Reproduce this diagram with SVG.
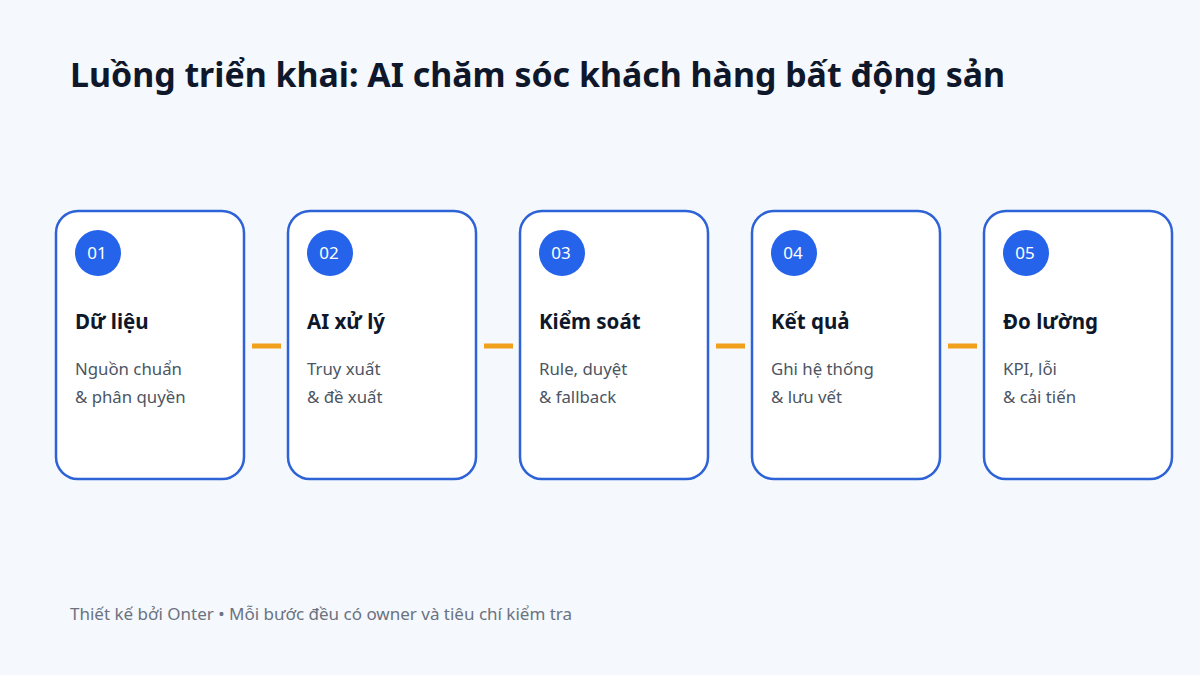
<svg xmlns="http://www.w3.org/2000/svg" width="1200" height="675" viewBox="0 0 1200 675">
<style>
.bg{fill:#f5f8fc}
.card{fill:#ffffff;stroke:#2d63d6;stroke-width:2.5}
.badge{fill:#2563eb}
.num{font-family:"Noto Sans",sans-serif;font-size:17px;fill:#ffffff}
.h{font-family:"Noto Sans",sans-serif;font-size:20.5px;font-weight:700;fill:#0f172a}
.d{font-family:"Noto Sans",sans-serif;font-size:16.8px;fill:#4b5563}
.conn{stroke:#f0a01a;stroke-width:5}
.title{font-family:"Noto Sans",sans-serif;font-size:33.9px;font-weight:700;fill:#0f172a}
.foot{font-family:"Noto Sans",sans-serif;font-size:17px;fill:#6b7280}
</style>
<rect class="bg" x="0" y="0" width="1200" height="675"/>
<text class="title" x="70" y="87">Luồng triển khai: AI chăm sóc khách hàng bất động sản</text>
<g id="connectors">
<line class="conn" x1="252" y1="346" x2="281" y2="346"/>
<line class="conn" x1="484" y1="346" x2="513" y2="346"/>
<line class="conn" x1="716" y1="346" x2="745" y2="346"/>
<line class="conn" x1="948" y1="346" x2="977" y2="346"/>
</g>
<g id="node1">
<rect class="card" x="56" y="211" width="188" height="268" rx="22"/>
<circle class="badge" cx="98" cy="253" r="23"/>
<text class="num" x="97" y="259" text-anchor="middle">01</text>
<text class="h" x="75" y="329">Dữ liệu</text>
<text class="d" x="75" y="375">Nguồn chuẩn</text>
<text class="d" x="75" y="403">&amp; phân quyền</text>
</g>
<g id="node2">
<rect class="card" x="288" y="211" width="188" height="268" rx="22"/>
<circle class="badge" cx="330" cy="253" r="23"/>
<text class="num" x="329" y="259" text-anchor="middle">02</text>
<text class="h" x="307" y="329">AI xử lý</text>
<text class="d" x="307" y="375">Truy xuất</text>
<text class="d" x="307" y="403">&amp; đề xuất</text>
</g>
<g id="node3">
<rect class="card" x="520" y="211" width="188" height="268" rx="22"/>
<circle class="badge" cx="562" cy="253" r="23"/>
<text class="num" x="561" y="259" text-anchor="middle">03</text>
<text class="h" x="539" y="329">Kiểm soát</text>
<text class="d" x="539" y="375">Rule, duyệt</text>
<text class="d" x="539" y="403">&amp; fallback</text>
</g>
<g id="node4">
<rect class="card" x="752" y="211" width="188" height="268" rx="22"/>
<circle class="badge" cx="794" cy="253" r="23"/>
<text class="num" x="793" y="259" text-anchor="middle">04</text>
<text class="h" x="771" y="329">Kết quả</text>
<text class="d" x="771" y="375">Ghi hệ thống</text>
<text class="d" x="771" y="403">&amp; lưu vết</text>
</g>
<g id="node5">
<rect class="card" x="984" y="211" width="188" height="268" rx="22"/>
<circle class="badge" cx="1026" cy="253" r="23"/>
<text class="num" x="1025" y="259" text-anchor="middle">05</text>
<text class="h" x="1003" y="329">Đo lường</text>
<text class="d" x="1003" y="375">KPI, lỗi</text>
<text class="d" x="1003" y="403">&amp; cải tiến</text>
</g>
<text class="foot" x="70" y="620">Thiết kế bởi Onter • Mỗi bước đều có owner và tiêu chí kiểm tra</text>
</svg>
